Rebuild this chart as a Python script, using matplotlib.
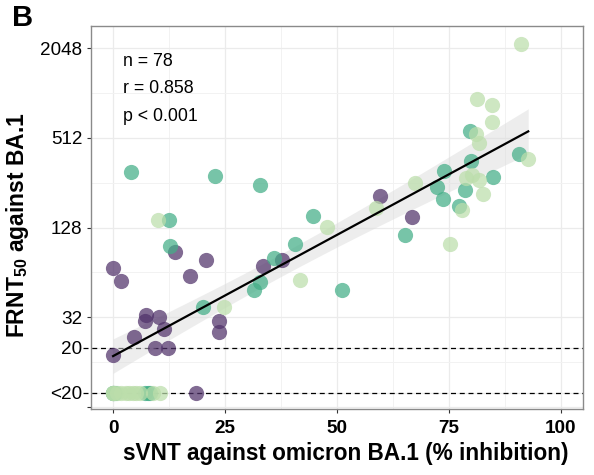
import numpy as np
import matplotlib
matplotlib.use("Agg")
import matplotlib.pyplot as plt
import matplotlib.transforms as mtransforms

plt.rcParams['font.family'] = ['Liberation Sans', 'DejaVu Sans']
plt.rcParams['mathtext.fontset'] = 'custom'
plt.rcParams['mathtext.rm'] = 'Liberation Sans'
plt.rcParams['mathtext.bf'] = 'Liberation Sans:bold'

# ---- data (sVNT % inhibition, FRNT50 titre; "<20" plotted at 10) ----
purple_x = [0, 1.7, 13.9, 20.7, 17.1, 33.4, 37.7, 7.3, 7.2, 10.3, 11.4, 23.7, 23.7,
            4.6, 9.3, 12.2, 0, 18.5, 59.6, 66.7]
purple_y = [69, 56, 88, 77, 61, 70.5, 77.6, 33, 30, 32, 26.7, 30, 25.6,
            23.7, 20, 20, 17.9, 10, 210, 150]

teal_x = [3.9, 22.7, 32.9, 12.4, 12.6, 31.5, 32.8, 20.1, 44.7, 40.7, 36.0, 51.2,
          65.2, 79.6, 90.6, 79.9, 74.0, 84.8, 72.4, 78.6, 73.7, 77.3,
          0, 0, 0.5, 7.2, 7.8, 8.3]
teal_y = [302, 284, 247, 145, 96, 49, 55, 37.5, 153, 99, 79.5, 48.8,
          115, 571, 400, 357, 308, 278, 240, 230, 198, 180,
          10, 10, 10, 10, 10, 10]

light_x = [10.0, 24.7, 41.7, 47.7, 58.8, 91.1, 81.3, 84.5, 84.7, 81.0, 81.6, 92.7,
           78.7, 80.2, 81.7, 82.5, 67.5, 78.0, 75.3,
           0, 0, 0.8, 1.8, 2.8, 3.6, 4.4, 5.2, 6.0, 8.8, 10.5]
light_y = [143, 37.5, 57, 130, 172, 2200, 942, 856, 651, 541, 471, 368,
           274, 288, 267, 216, 256, 167, 100,
           10, 10, 10, 10, 10, 10, 10, 10, 10, 10, 10]

ytick_vals = [8, 10, 20, 32, 128, 512, 2048]
ytick_labels = ["", "<20", "20", "32", "128", "512", "2048"]
yminor_vals = [16, 64, 256, 1024]
xtick_vals = [0, 25, 50, 75, 100]
xminor_vals = [12.5, 37.5, 62.5, 87.5]
stats_text = "n = 78\nr = 0.858\np < 0.001"

groups = [
    (purple_x, purple_y, '#50326a'),
    (teal_x, teal_y, '#43ae87'),
    (light_x, light_y, '#bcdeab'),
]

fig = plt.figure(figsize=(5.94, 4.75), dpi=100)
ax = fig.add_axes([0.1527, 0.139, 0.8293, 0.8063])

ax.set_yscale('log', base=2)
ax.set_xlim(-5, 105)
ax.set_ylim(2 ** 2.955, 2 ** 11.497)

# grid
ax.set_yticks(ytick_vals)
ax.set_yticklabels(ytick_labels)
ax.set_yticks(yminor_vals, minor=True)
ax.set_yticklabels([], minor=True)
ax.set_xticks(xtick_vals)
ax.set_xticklabels([str(v) for v in xtick_vals])
ax.set_xticks(xminor_vals, minor=True)
ax.grid(which='major', color='#ebebeb', linewidth=0.9, zorder=0)
ax.grid(which='minor', color='#f2f2f2', linewidth=0.7, zorder=0)
ax.set_axisbelow(True)
ax.tick_params(which='minor', length=0)
ax.tick_params(which='major', length=3, color='#333333', width=0.8)
ax.tick_params(axis='y', labelsize=13.6, pad=3, labelcolor='black')
ax.tick_params(axis='x', labelsize=13.6, pad=5, labelcolor='black')
for lab in ax.get_xticklabels():
    lab.set_fontweight('bold')
for t, v in zip(ax.yaxis.get_major_ticks(), ytick_vals):
    if v in (10, 20):
        t.tick1line.set_visible(False)

for s in ax.spines.values():
    s.set_color('#8a8a8a')
    s.set_linewidth(1.0)

# dashed reference lines
trans = mtransforms.blended_transform_factory(ax.transAxes, ax.transData)
for v in (20, 10):
    ax.plot([-0.016, 1], [v, v], transform=trans, color='black', linestyle=(0, (4, 3)),
            linewidth=0.9, clip_on=False, zorder=2)

# regression on log2 scale with 95% CI
allx = np.array(purple_x + teal_x + light_x, dtype=float)
ally = np.log2(np.array(purple_y + teal_y + light_y, dtype=float))
n = len(allx)
b1, b0 = np.polyfit(allx, ally, 1)
xs = np.linspace(allx.min(), allx.max(), 200)
yhat = b0 + b1 * xs
resid = ally - (b0 + b1 * allx)
sigma = np.sqrt(np.sum(resid ** 2) / (n - 2))
sxx = np.sum((allx - allx.mean()) ** 2)
se = sigma * np.sqrt(1.0 / n + (xs - allx.mean()) ** 2 / sxx)
tval = 1.9917
ax.fill_between(xs, 2 ** (yhat - tval * se), 2 ** (yhat + tval * se),
                color='#dcdcdc', alpha=0.5, linewidth=0, zorder=3)

for gx, gy, col in groups:
    ax.scatter(gx, gy, s=120, color=col, alpha=0.72, linewidths=0, zorder=4)

ax.plot(xs, 2 ** yhat, color='black', linewidth=1.6, zorder=5)

ax.text(0.066, 0.93, stats_text, transform=ax.transAxes, ha='left', va='top',
        fontsize=12.8, linespacing=1.8)

ax.set_xlabel("sVNT against omicron BA.1 (% inhibition)", fontsize=16.3,
              fontweight='bold', labelpad=5)
ax.xaxis.set_label_coords(0.517, -0.085)
ax.set_ylabel(r"FRNT$_{\mathbf{50}}$ against BA.1", fontsize=16.5,
              fontweight='bold', labelpad=2)
ax.yaxis.set_label_coords(-0.122, 0.48)

fig.text(0.02, 0.992, "B", fontsize=21, fontweight='bold', ha='left', va='top')

fig.savefig("out.png", dpi=100)
